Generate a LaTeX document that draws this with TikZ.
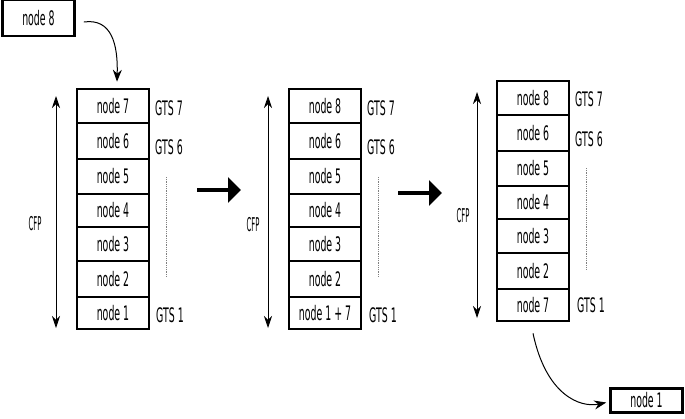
\documentclass[tikz,border=0pt]{standalone}
\usepackage{fontspec}
\setmainfont{DejaVu Sans}[FakeStretch=0.47]
\newfontfamily\cfpfont{DejaVu Sans}[FakeStretch=0.36]
\usetikzlibrary{arrows.meta}
\tikzset{
  txt/.style={font=\fontsize{20}{21}\selectfont},
  cell/.style={draw, line width=2.6pt, minimum width=72pt, inner sep=0pt, txt},
  gts/.style={anchor=west, inner sep=0pt, txt},
  cfp/.style={inner sep=0pt, font=\cfpfont\fontsize{19}{20}\selectfont},
  cfparrow/.style={line width=0.8pt, {Stealth[length=12pt,width=8pt]}-{Stealth[length=12pt,width=8pt]}},
  dotline/.style={gray, line width=0.8pt, densely dotted},
  bigarrow/.style={line width=4pt, -{Triangle[length=13pt,width=25pt]}},
  curvearrow/.style={line width=1pt, -{Stealth[length=12pt,width=9pt]}},
  plainbox/.style={draw, line width=2.6pt, minimum width=72pt, minimum height=24pt, inner sep=0pt, txt}
}
\begin{document}
\begin{tikzpicture}[x=1pt,y=-1pt]
\useasboundingbox (0,0) rectangle (685,418);
\newcommand{\mystack}[5]{%
 % #1 prefix, #2 x centre, #3 y offset, #4 top label, #5 bottom label
 \node[cell, minimum height=34pt] (#1r7) at (#2,106+#3) {#4};
 \node[cell, minimum height=36pt] (#1r6) at (#2,141+#3) {node 6};
 \node[cell, minimum height=35pt] (#1r5) at (#2,176.5+#3) {node 5};
 \node[cell, minimum height=33pt] (#1r4) at (#2,210.5+#3) {node 4};
 \node[cell, minimum height=34pt] (#1r3) at (#2,244+#3) {node 3};
 \node[cell, minimum height=36pt] (#1r2) at (#2,279+#3) {node 2};
 \node[cell, minimum height=32pt] (#1r1) at (#2,313+#3) {#5};
}
\mystack{a}{113}{0}{node 7}{node 1}
\mystack{b}{325}{0}{node 8}{node 1 + 7}
\mystack{c}{533}{-8}{node 8}{node 7}

% GTS labels
\node[gts] (ag7) at (155,108) {GTS 7};
\node[gts] (ag6) at (155,147) {GTS 6};
\node[gts] (ag1) at (156,315) {GTS 1};
\node[gts] (bg7) at (367,108) {GTS 7};
\node[gts] (bg6) at (367,147) {GTS 6};
\node[gts] (bg1) at (369,315) {GTS 1};
\node[gts] (cg7) at (575,99) {GTS 7};
\node[gts] (cg6) at (575,139) {GTS 6};
\node[gts] (cg1) at (577,305) {GTS 1};

% dotted lines
\coordinate (ad1) at (166,177); \coordinate (ad2) at (166,277);
\coordinate (bd1) at (378,177); \coordinate (bd2) at (378,277);
\coordinate (cd1) at (586,168); \coordinate (cd2) at (586,270);
\draw[dotline] (ad1) -- (ad2);
\draw[dotline] (bd1) -- (bd2);
\draw[dotline] (cd1) -- (cd2);

% CFP arrows
\coordinate (aa1) at (56,96); \coordinate (aa2) at (56,328);
\coordinate (ba1) at (268,96); \coordinate (ba2) at (268,328);
\coordinate (ca1) at (477,92); \coordinate (ca2) at (477,318);
\draw[cfparrow] (aa1) -- (aa2);
\draw[cfparrow] (ba1) -- (ba2);
\draw[cfparrow] (ca1) -- (ca2);
\node[cfp] (acfp) at (35,224) {CFP};
\node[cfp] (bcfp) at (253,225) {CFP};
\node[cfp] (ccfp) at (463,216) {CFP};

% big arrows
\coordinate (m1a) at (197,190); \coordinate (m1b) at (241,190);
\coordinate (m2a) at (398,193); \coordinate (m2b) at (442,193);
\draw[bigarrow] (m1a) -- (m1b);
\draw[bigarrow] (m2a) -- (m2b);

% node 8 and node 1 boxes
\node[plainbox, minimum height=36pt] (n8) at (38.5,18) {node 8};
\node[plainbox] (n1) at (646.5,400.5) {node 1};

% curved arrows
\draw[curvearrow] ([xshift=8pt,yshift=-4pt]n8.east) .. controls (112,18) and (118,45) .. ([xshift=4pt,yshift=6pt]ar7.north);
\draw[curvearrow] ([yshift=-11pt]cr1.south) .. controls (546,395) and (580,408) .. ([xshift=-3pt,yshift=-2pt]n1.west);
\end{tikzpicture}
\end{document}
